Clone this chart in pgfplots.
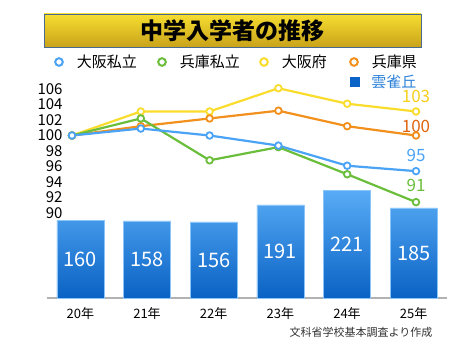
\documentclass[border=0pt]{standalone}
\usepackage{fontspec}
\setmainfont{Noto Sans CJK JP}
\usepackage{pgfplots}
\pgfplotsset{compat=1.18}
\usepackage{pgfplotstable}
\definecolor{cblue}{RGB}{74,163,245}
\definecolor{cgreen}{RGB}{107,190,60}
\definecolor{cyellow}{RGB}{249,220,44}
\definecolor{corange}{RGB}{242,144,30}
\definecolor{corangelab}{RGB}{224,101,15}
\definecolor{cyellowlab}{RGB}{245,207,26}
\definecolor{bartop}{RGB}{88,172,246}
\definecolor{barbot}{RGB}{10,98,196}
\definecolor{barsq}{RGB}{10,100,200}
\definecolor{hibtext}{RGB}{42,128,216}
\definecolor{titletop}{RGB}{246,222,48}
\definecolor{titlebot}{RGB}{201,162,26}
\definecolor{titleborder}{RGB}{74,106,144}

\pgfplotsset{
  legax/.style={hide axis, scale only axis, width=10bp, height=10bp,
    xmin=0, xmax=1, ymin=0, ymax=1, at={#1}, anchor=center,
    legend image code/.code={\draw[##1, only marks] plot coordinates {(0bp,0bp)};},
    legend style={draw=none, fill=none, inner sep=0pt, outer sep=0pt, at={(0.5,0.5)}, anchor=west,
      font=\fontsize{15bp}{17bp}\selectfont, legend cell align=left,
      /tikz/every odd column/.append style={column sep=12bp}}},
  circ/.style={color=#1, mark=*, mark size=3.8bp, mark options={fill=white, line width=2bp}},
}

\pgfplotstableread{
x blue green yellow orange
0 100 100 100 100
1 100.9 102.2 103.1 101.2
2 100.0 96.8 103.1 102.2
3 98.7 98.5 106.1 103.2
4 96.1 95.0 104.1 101.2
5 95.4 91.4 103.1 100.0
}\lines

\pgfplotstableread{
x v
0 160
1 158
2 156
3 191
4 221
5 185
}\bars

\begin{document}
\begin{tikzpicture}[x=1bp,y=1bp]
\path[use as bounding box] (0,0) rectangle (470,353);
% title
\shadedraw[top color=titletop, bottom color=titlebot, draw=titleborder, line width=0.8bp] (44,306) rectangle (421,339);
\node[font=\bfseries\fontsize{23bp}{26bp}\selectfont] at (232.5,322.5) {中学入学者の推移};

% bars
\begin{axis}[
  at={(47bp,55bp)}, anchor=south west,
  scale only axis, width=400bp, height=121.875bp,
  xmin=-0.5, xmax=5.5, ymin=0, ymax=250,
  axis x line*=bottom, axis y line=none,
  x axis line style={draw=black!30, line width=1.3bp},
  xtick={0,...,5},
  xticklabels={20年,21年,22年,23年,24年,25年},
  major tick length=0,
  xticklabel style={font=\fontsize{13bp}{15bp}\selectfont, yshift=-6bp},
  ytick=\empty,
  clip=false,
  legend image code/.code={\draw[#1, only marks] plot coordinates {(0bp,0bp)};},
  legend style={draw=none, fill=none, inner sep=0pt, outer sep=0pt, at={(0.758,1.773)}, anchor=west,
    font=\fontsize{15bp}{17bp}\selectfont, legend cell align=left,
    /tikz/every odd column/.append style={column sep=10bp}},
]
\addplot[ybar, bar width=47bp, draw=bartop!70!white, line width=0.5bp, top color=bartop, bottom color=barbot, forget plot] table[x=x,y=v] {\bars};
\addlegendimage{color=barsq, mark=square*, mark size=4.6bp, mark options={fill=barsq, draw=barsq, line width=0.1bp}}
\addlegendentry{\textcolor{hibtext}{雲雀丘}}
\foreach \i/\v in {0/160,1/158,2/156,3/191,4/221,5/185}{
  \edef\tmp{\noexpand\node[text=white, font=\noexpand\fontsize{20bp}{22bp}\noexpand\selectfont] at (axis cs:\i,\v/2) {\v};}
  \tmp
}
\end{axis}

% lines
\begin{axis}[
  at={(72bp,140bp)}, anchor=south west,
  scale only axis, width=344bp, height=124bp,
  xmin=0, xmax=5, ymin=90, ymax=106,
  ytick={90,92,...,106}, xtick=\empty,
  axis line style={draw=none}, major tick length=0,
  /pgf/number format/assume math mode=true,
  yticklabel style={font=\fontsize{15bp}{17bp}\selectfont, xshift=-6bp},
  clip=false,
  every axis plot/.append style={line width=2.2bp, mark=o, mark size=3.3bp, mark options={fill=white, line width=1.8bp}},
]
\addplot[color=cyellow, mark=*] table[x=x,y=yellow] {\lines};
\addplot[color=corange, mark=*] table[x=x,y=orange] {\lines};
\addplot[color=cgreen, mark=*] table[x=x,y=green] {\lines};
\addplot[color=cblue, mark=*] table[x=x,y=blue] {\lines};
\node[text=cyellowlab, font=\fontsize{17bp}{19bp}\selectfont] at (axis cs:5,105.1) {103};
\node[text=corangelab, font=\fontsize{17bp}{19bp}\selectfont] at (axis cs:5,101.2) {100};
\node[text=cblue, font=\fontsize{17bp}{19bp}\selectfont] at (axis cs:5,97.4) {95};
\node[text=cgreen, font=\fontsize{17bp}{19bp}\selectfont] at (axis cs:5,93.5) {91};
\end{axis}

% legend entries (one small hidden axis each)
\begin{axis}[legax={(55.2bp,291bp)}]
\addlegendimage{circ=cblue}\addlegendentry{大阪私立}
\end{axis}
\begin{axis}[legax={(158.2bp,291bp)}]
\addlegendimage{circ=cgreen}\addlegendentry{兵庫私立}
\end{axis}
\begin{axis}[legax={(260.2bp,291bp)}]
\addlegendimage{circ=cyellow}\addlegendentry{大阪府}
\end{axis}
\begin{axis}[legax={(350.2bp,291bp)}]
\addlegendimage{circ=corange}\addlegendentry{兵庫県}
\end{axis}

\node[anchor=east, text=black!80, font=\fontsize{11bp}{13bp}\selectfont] at (436,21) {文科省学校基本調査より作成};
\end{tikzpicture}
\end{document}
